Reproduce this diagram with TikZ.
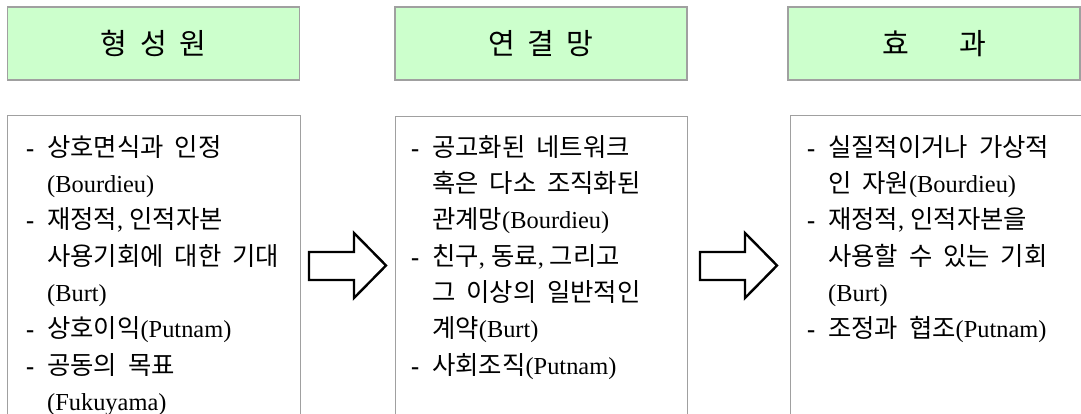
\documentclass[tikz,border=0pt]{standalone}
\usepackage{fontspec}
\setmainfont{Liberation Serif}
\newfontfamily\kr[WordSpace=1.9, Scale=1.04]{Noto Sans CJK KR}
\usetikzlibrary{positioning}
\definecolor{headgreen}{HTML}{CCFFCC}
\definecolor{framegray}{HTML}{A0A0A0}
\newcommand{\itm}{\strut\makebox[21pt][l]{\textbf{-}}}
\newcommand{\ind}{\strut\hspace*{21pt}}
\tikzset{%
    head/.style={%
        draw=framegray, line width=1.2pt, fill=headgreen,
        minimum width=292pt, minimum height=73pt, inner sep=0pt,
        font=\kr\fontsize{28}{34}\selectfont},
    body/.style={%
        draw=framegray, line width=1.2pt, minimum height=330pt,
        anchor=north west, inner sep=0pt},
    list/.style={%
        align=left, inner sep=0pt, anchor=north west,
        font=\fontsize{24.4}{36.3}\selectfont},
    blockarrow/.style={draw=black, line width=2.4pt, fill=white}
}

\begin{document}
\begin{tikzpicture}[x=1pt, y=-1pt]
\useasboundingbox (0,0) rectangle (1081,414);
\clip (0,0) rectangle (1081,414);

% headers
\node (H1) at (153.5,43.5) [head] {형 성 원};
\node (H2) at (541,43.5) [head] {연 결 망};
\node (H3) at (934,43.5) [head] {효\hspace{50pt}과};

% frames, open below
\node (B1) at (7,115) [body, minimum width=293pt] {};
\node (B2) at (395,116) [body, minimum width=292pt] {};
\node (B3) at (790,115) [body, minimum width=300pt] {};

% lists
\node (L1) [list, below right=15.6pt and 19pt of B1.north west]
{\itm{\kr 상호면식과 인정}\\
 \ind(Bourdieu)\\
 \itm{\kr 재정적}, {\kr 인적자본}\\
 \ind{\kr 사용기회에 대한 기대}\\
 \ind(Burt)\\
 \itm{\kr 상호이익}(Putnam)\\
 \itm{\kr 공동의 목표}\\
 \ind(Fukuyama)};

\node (L2) [list, below right=14.6pt and 16pt of B2.north west]
{\itm{\kr 공고화된 네트워크}\\
 \ind{\kr 혹은 다소 조직화된}\\
 \ind{\kr 관계망}(Bourdieu)\\
 \itm{\kr 친구}, {\kr 동료}, {\kr 그리고}\\
 \ind{\kr 그 이상의 일반적인}\\
 \ind{\kr 계약}(Burt)\\
 \itm{\kr 사회조직}(Putnam)};

\node (L3) [list, below right=15.6pt and 17pt of B3.north west]
{\itm{\kr 실질적이거나 가상적}\\
 \ind{\kr 인 자원}(Bourdieu)\\
 \itm{\kr 재정적}, {\kr 인적자본을}\\
 \ind{\kr 사용할 수 있는 기회}\\
 \ind(Burt)\\
 \itm{\kr 조정과 협조}(Putnam)};

% block arrows between the frames
\foreach \x in {309,700}
  \draw[blockarrow] (\x,252) -- (\x+45,252) -- (\x+45,233) -- (\x+77,265.5)
    -- (\x+45,298) -- (\x+45,280) -- (\x,280) -- cycle;
\end{tikzpicture}
\end{document}
